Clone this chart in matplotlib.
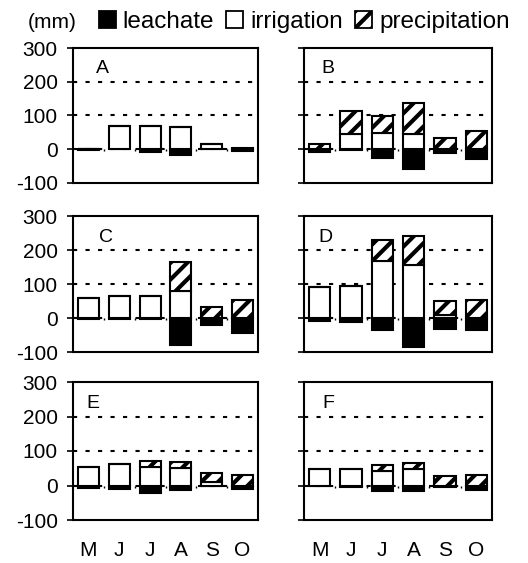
import numpy as np
import matplotlib
matplotlib.use("Agg")
import matplotlib.pyplot as plt
from matplotlib.patches import Patch

plt.rcParams['font.family'] = ['Liberation Sans', 'DejaVu Sans']
plt.rcParams['hatch.linewidth'] = 3.0
plt.rcParams['axes.unicode_minus'] = False

months = ['M', 'J', 'J', 'A', 'S', 'O']
panels = ['A', 'B', 'C', 'D', 'E', 'F']

# monthly water balance per site (mm); leachate is plotted downwards
leachate_A = [-2, 0, -8, -18, 0, -4]
irrigation_A = [0, 70, 68, 65, 15, 0]
precip_A = [0, 0, 0, 0, 0, 5]

leachate_B = [-8, -3, -25, -58, -11, -29]
irrigation_B = [0, 44, 48, 44, 0, 0]
precip_B = [17, 70, 50, 92, 33, 53]

leachate_C = [-4, -2, -2, -78, -20, -44]
irrigation_C = [59, 66, 65, 80, 0, 0]
precip_C = [0, 0, 0, 85, 32, 53]

leachate_D = [-10, -12, -36, -84, -31, -36]
irrigation_D = [92, 95, 169, 156, 10, 0]
precip_D = [0, 0, 61, 86, 41, 53]

leachate_E = [-7, -10, -21, -13, -2, -10]
irrigation_E = [55, 63, 55, 50, 10, 0]
precip_E = [0, 0, 15, 18, 26, 29]

leachate_F = [-2, -5, -16, -17, -5, -14]
irrigation_F = [47, 47, 42, 47, 0, 0]
precip_F = [0, 0, 16, 19, 28, 31]

leachate = [leachate_A, leachate_B, leachate_C, leachate_D, leachate_E, leachate_F]
irrigation = [irrigation_A, irrigation_B, irrigation_C, irrigation_D, irrigation_E, irrigation_F]
precip = [precip_A, precip_B, precip_C, precip_D, precip_E, precip_F]

label_x = [0.25, 0.05, 0.35, -0.05, -0.08, 0.1]

W, H = 528, 563
fig = plt.figure(figsize=(W / 100, H / 100), dpi=100)

cols = [(73, 185), (304, 188)]
rows = [(48, 183), (216, 352), (382, 520)]

x = np.arange(len(months))
bar_w = 0.68
dotted = (0, (2, 4))

for i, name in enumerate(panels):
    r, c = divmod(i, 2)
    left, width = cols[c]
    top, bottom = rows[r]
    ax = fig.add_axes([left / W, 1 - bottom / H, width / W, (bottom - top) / H])

    ax.set_axisbelow(True)
    for yv in [0, 100, 200]:
        ax.axhline(yv, color='black', lw=1.5, ls=dotted, zorder=0)

    irr = np.array(irrigation[i])
    ax.bar(x, leachate[i], bar_w, color='black', edgecolor='black', lw=1.5)
    ax.bar(x, irr, bar_w, color='white', edgecolor='black', lw=1.5)
    ax.bar(x, precip[i], bar_w, bottom=irr, color='white', edgecolor='black',
           lw=1.5, hatch='//')

    # category ticks on the zero line
    ax.vlines(x[:-1] + 0.5, -6, 0, color='black', lw=1.0)

    ax.set_xlim(-0.5, len(months) - 0.5)
    ax.set_ylim(-100, 300)
    ax.set_yticks([-100, 0, 100, 200, 300])
    ax.tick_params(axis='y', direction='out', length=4, width=1.2, pad=7,
                   labelsize=15, labelleft=(c == 0))
    ax.set_xticks(x)
    ax.set_xticklabels(months)
    ax.tick_params(axis='x', length=0, pad=15, labelsize=15,
                   labelbottom=(r == 2))
    for sp in ax.spines.values():
        sp.set_linewidth(1.5)

    ax.text(label_x[i], 225, name, fontsize=14, va='baseline', ha='left')

fig.text(28 / W, 1 - 22 / H, '(mm)', fontsize=15, va='center', ha='left')

handles = [
    Patch(facecolor='black', edgecolor='black', lw=1.3),
    Patch(facecolor='white', edgecolor='black', lw=1.3),
    Patch(facecolor='white', edgecolor='black', lw=1.3, hatch='//'),
]
fig.legend(handles, ['leachate', 'irrigation', 'precipitation'],
           loc='center left', bbox_to_anchor=(99 / W, 1 - 22 / H), ncol=3,
           frameon=False, fontsize=17.5, handlelength=0.68, handleheight=0.68,
           handletextpad=0.3, columnspacing=0.5, borderpad=0, borderaxespad=0)

fig.savefig('out.png', dpi=100, facecolor='white')
